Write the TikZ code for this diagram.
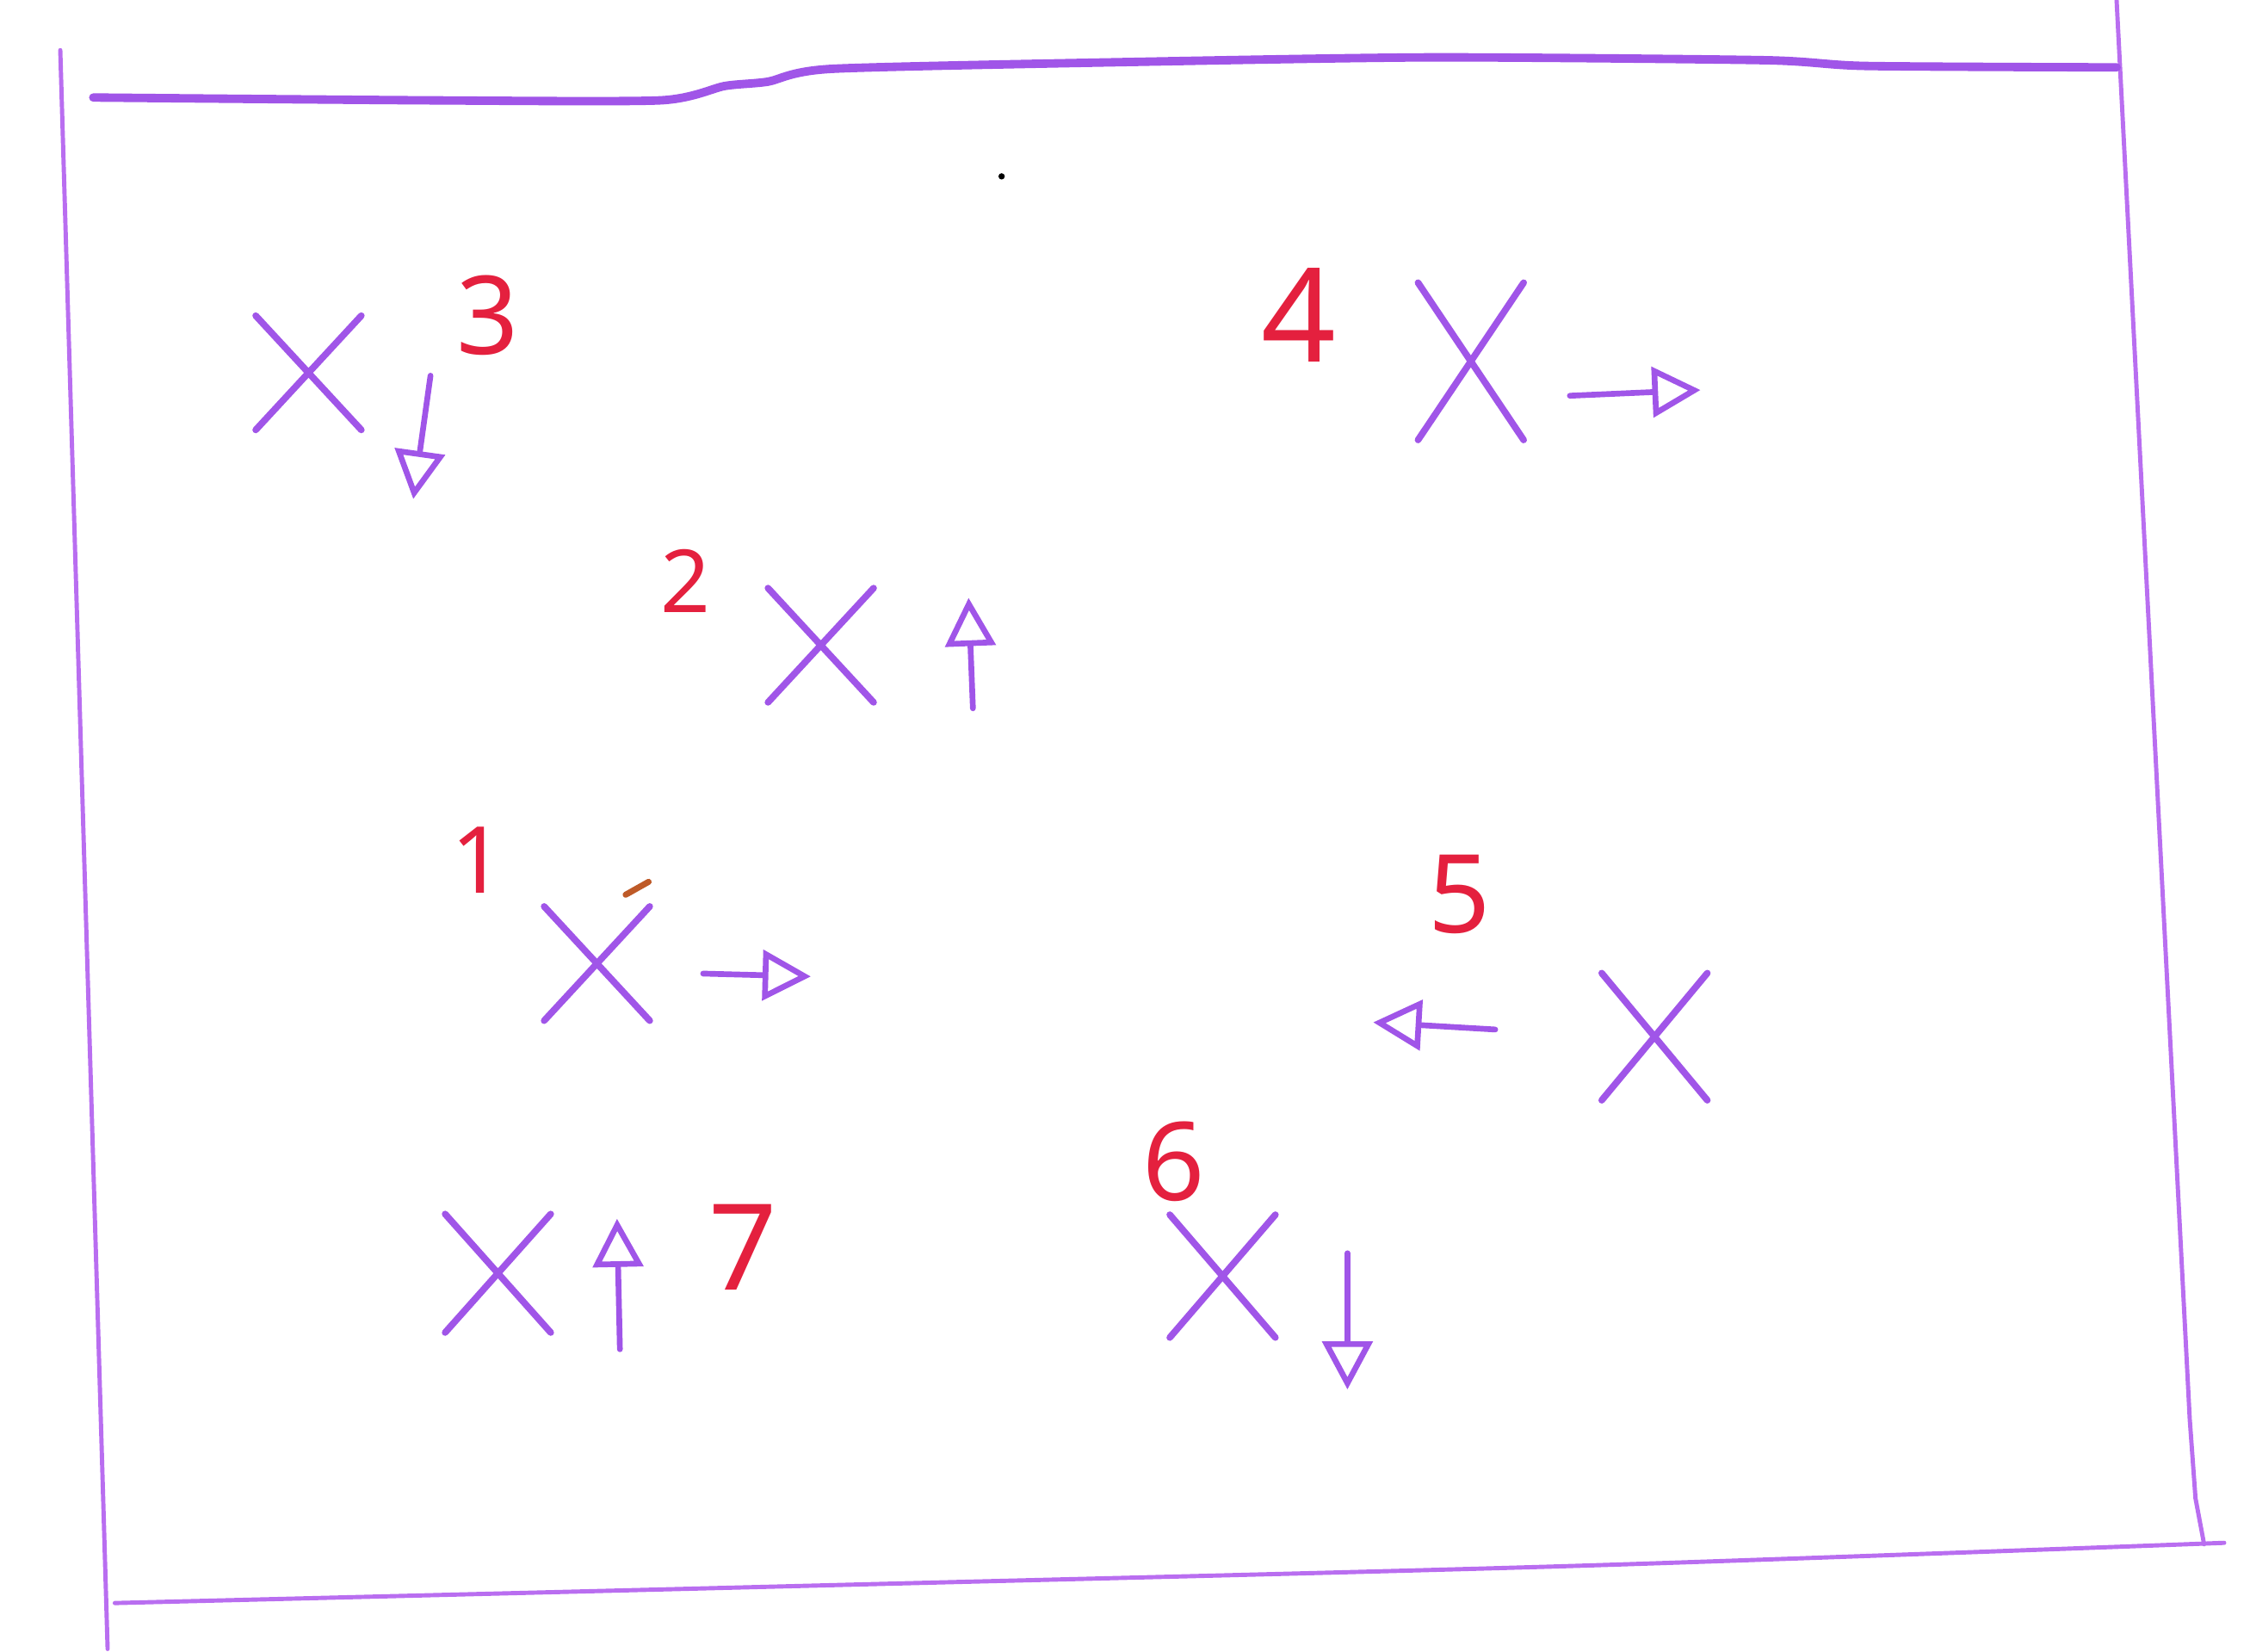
\documentclass[tikz,border=0pt]{standalone}
\usepackage{fontspec}
\setmainfont{Noto Sans}
\usetikzlibrary{arrows.meta,shapes.misc}
\definecolor{penviolet}{RGB}{160,85,232}
\definecolor{edgeviolet}{RGB}{185,110,240}
\definecolor{numred}{RGB}{228,32,62}
\definecolor{tickbrown}{RGB}{190,90,40}

\begin{document}
\begin{tikzpicture}[x=0.016671cm,y=-0.016667cm,line cap=round,line join=round,
spot/.style={draw=penviolet,cross out,line width=2.2pt,inner sep=0pt,minimum width=1.15cm,minimum height=1.25cm},
move/.style={draw=penviolet,line width=1.9pt,-{Triangle[open,length=5.6mm,width=5.8mm,line width=1.9pt]}},
num/.style={text=numred,inner sep=0pt,font=\fontsize{36}{36}\selectfont},
frame line/.style={draw=edgeviolet,line width=1.4pt}]
\useasboundingbox (0,0) rectangle (1568,1152);
% sheet
\draw[frame line] (42,35) -- (75,1150);
\draw[frame line] (1475,0) -- (1526,990) -- (1530,1045) -- (1536,1077);
\draw[frame line] plot[smooth] coordinates {(80,1118) (600,1105) (1100,1092) (1550,1076)};
\draw[draw=penviolet,line width=2.8pt] plot[smooth,tension=0.4] coordinates {(65,68) (300,70) (460,70) (505,60) (535,57) (580,48) (800,43) (1000,40) (1230,42) (1300,46) (1475,47)};
\fill (698,123) circle (2.2);
% positions
\node[spot] (x1) at (416,672) {};
\node[spot] (x2) at (572,450) {};
\node[spot] (x3) at (215,260) {};
\node[spot,minimum height=1.75cm] (x4) at (1025,252) {};
\node[spot,minimum height=1.4cm] (x5) at (1153,723) {};
\node[spot,minimum height=1.35cm] (x6) at (852,890) {};
\node[spot,minimum height=1.3cm] (x7) at (347,888) {};
\draw[draw=tickbrown,line width=2pt] (436,624) -- (452,615);
% numbers
\node[num,scale=0.85] (n1) at (333,600) {1};
\node[num,scale=0.8] (n2) at (478,405) {2};
\node[num] (n3) at (340,220) {3};
\node[num,scale=1.2] (n4) at (905,220) {4};
\node[num] (n5) at (1017,624) {5};
\node[num] (n6) at (818,810) {6};
\node[num,scale=1.1] (n7) at (518,870) {7};
% directions
\draw[move] ([shift={(74,7)}]x1.center) -- ++(75,2);
\draw[move] ([shift={(106,44)}]x2.center) -- ++(-3,-77);
\draw[move] ([shift={(85,2)}]x3.center) -- ++(-12,86);
\draw[move] ([shift={(69,24)}]x4.center) -- ++(91,-4);
\draw[move] ([shift={(-111,-5)}]x5.center) -- ++(-85,-5);
\draw[move] ([shift={(87,-16)}]x6.center) -- ++(0,95);
\draw[move] ([shift={(85,53)}]x7.center) -- ++(-2,-91);
\end{tikzpicture}
\end{document}
